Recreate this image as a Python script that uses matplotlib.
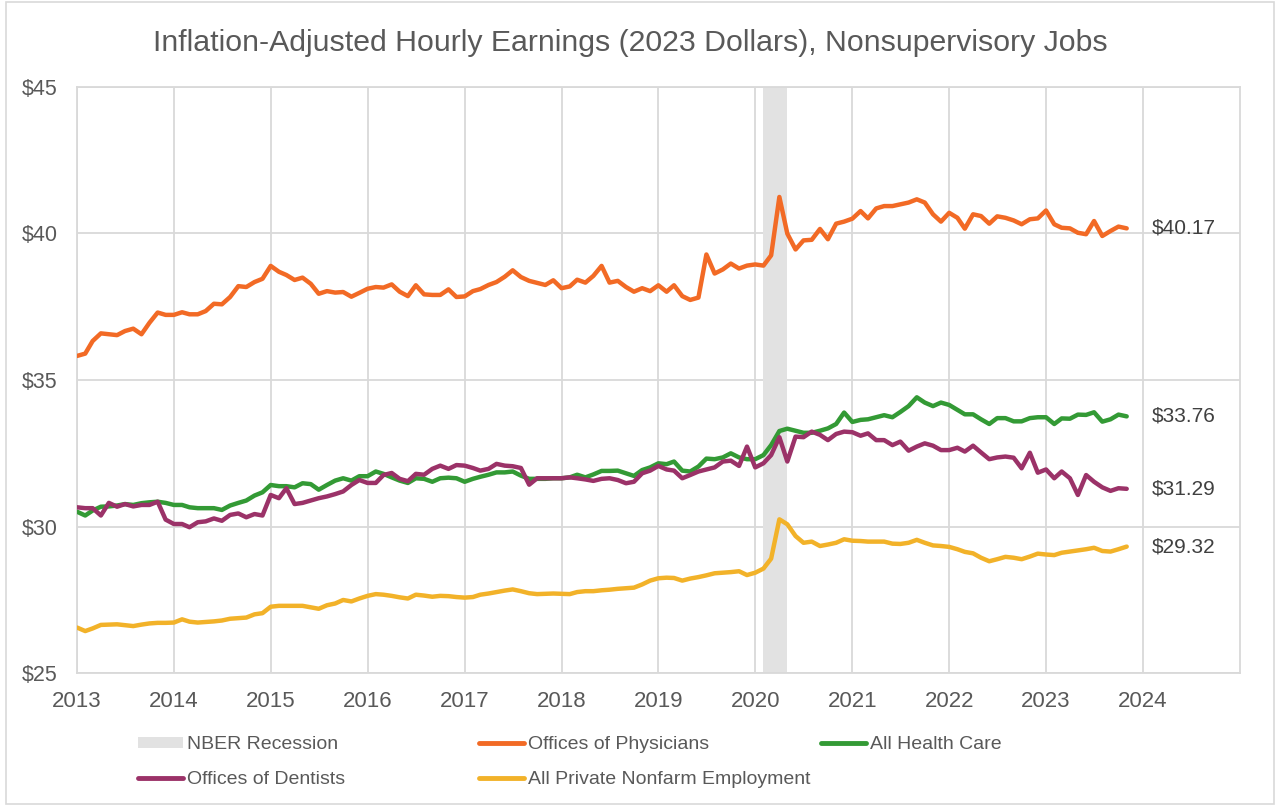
import matplotlib
matplotlib.use("Agg")
import matplotlib.pyplot as plt
from matplotlib.lines import Line2D
from matplotlib.patches import Patch, Rectangle
import pandas as pd

plt.rcParams['font.family'] = ['Liberation Sans', 'DejaVu Sans']

# ---------------- data ----------------
months = pd.date_range("2013-01-01", periods=131, freq="MS")

physicians = [
    35.82, 35.90, 36.33, 36.59, 36.56, 36.53, 36.67, 36.75, 36.56, 36.95, 37.30, 37.22,
    37.22, 37.31, 37.24, 37.24, 37.35, 37.60, 37.58, 37.83, 38.20, 38.17, 38.34, 38.45,
    38.89, 38.69, 38.58, 38.41, 38.49, 38.28, 37.94, 38.03, 37.98, 38.00, 37.84, 37.97,
    38.11, 38.17, 38.15, 38.26, 38.01, 37.86, 38.23, 37.92, 37.90, 37.90, 38.09, 37.83,
    37.85, 38.03, 38.10, 38.24, 38.34, 38.52, 38.74, 38.51, 38.38, 38.31, 38.24, 38.40,
    38.13, 38.19, 38.42, 38.32, 38.55, 38.89, 38.32, 38.38, 38.17, 38.01, 38.13, 38.03,
    38.23, 38.01, 38.23, 37.86, 37.73, 37.81, 39.28, 38.63, 38.77, 38.97, 38.80, 38.90,
    38.94, 38.90, 39.25, 41.24, 39.99, 39.45, 39.76, 39.78, 40.15, 39.80, 40.33, 40.40,
    40.50, 40.76, 40.51, 40.85, 40.93, 40.93, 40.99, 41.05, 41.16, 41.05, 40.65, 40.40,
    40.70, 40.53, 40.16, 40.65, 40.59, 40.33, 40.58, 40.53, 40.44, 40.31, 40.48, 40.51,
    40.78, 40.31, 40.19, 40.17, 40.02, 39.97, 40.42, 39.91, 40.08, 40.23, 40.17,
]

health_care = [
    30.51, 30.38, 30.55, 30.68, 30.69, 30.72, 30.77, 30.74, 30.80, 30.83, 30.85, 30.81,
    30.74, 30.74, 30.66, 30.63, 30.63, 30.63, 30.57, 30.72, 30.81, 30.89, 31.06, 31.17,
    31.42, 31.38, 31.38, 31.34, 31.48, 31.45, 31.26, 31.42, 31.57, 31.65, 31.57, 31.72,
    31.72, 31.88, 31.80, 31.68, 31.57, 31.49, 31.65, 31.63, 31.53, 31.65, 31.67, 31.65,
    31.53, 31.63, 31.70, 31.77, 31.85, 31.85, 31.88, 31.74, 31.63, 31.63, 31.63, 31.65,
    31.65, 31.68, 31.77, 31.68, 31.78, 31.90, 31.90, 31.91, 31.82, 31.73, 31.93, 32.02,
    32.16, 32.13, 32.22, 31.91, 31.88, 32.05, 32.32, 32.30, 32.36, 32.50, 32.36, 32.30,
    32.30, 32.44, 32.78, 33.26, 33.34, 33.27, 33.20, 33.20, 33.27, 33.35, 33.50, 33.89,
    33.57, 33.64, 33.66, 33.73, 33.80, 33.73, 33.91, 34.11, 34.41, 34.23, 34.11, 34.23,
    34.15, 33.98, 33.83, 33.83, 33.66, 33.50, 33.70, 33.70, 33.59, 33.59, 33.70, 33.73,
    33.73, 33.50, 33.69, 33.68, 33.82, 33.81, 33.90, 33.58, 33.66, 33.82, 33.76,
]

dentists = [
    30.66, 30.63, 30.63, 30.38, 30.81, 30.68, 30.77, 30.69, 30.74, 30.74, 30.85, 30.24,
    30.09, 30.09, 29.98, 30.15, 30.18, 30.28, 30.20, 30.40, 30.45, 30.32, 30.43, 30.38,
    31.08, 30.97, 31.31, 30.77, 30.81, 30.89, 30.97, 31.03, 31.11, 31.20, 31.42, 31.59,
    31.49, 31.49, 31.76, 31.83, 31.63, 31.55, 31.80, 31.77, 31.97, 32.08, 31.97, 32.10,
    32.08, 32.00, 31.91, 31.97, 32.14, 32.08, 32.06, 32.00, 31.43, 31.65, 31.65, 31.65,
    31.65, 31.68, 31.65, 31.61, 31.56, 31.63, 31.65, 31.59, 31.48, 31.53, 31.82, 31.91,
    32.07, 31.95, 31.91, 31.65, 31.76, 31.88, 31.95, 32.02, 32.22, 32.25, 32.07, 32.73,
    32.02, 32.16, 32.44, 33.05, 32.22, 33.07, 33.05, 33.24, 33.13, 32.95, 33.16, 33.24,
    33.22, 33.10, 33.18, 32.95, 32.95, 32.78, 32.90, 32.59, 32.73, 32.84, 32.76, 32.61,
    32.61, 32.69, 32.56, 32.76, 32.53, 32.30, 32.36, 32.39, 32.35, 31.99, 32.52, 31.84,
    31.95, 31.65, 31.88, 31.65, 31.08, 31.76, 31.53, 31.34, 31.22, 31.31, 31.29,
]

private_nonfarm = [
    26.56, 26.44, 26.53, 26.65, 26.66, 26.67, 26.64, 26.61, 26.66, 26.70, 26.72, 26.72,
    26.73, 26.84, 26.76, 26.73, 26.75, 26.77, 26.80, 26.86, 26.88, 26.90, 27.01, 27.05,
    27.27, 27.30, 27.30, 27.30, 27.30, 27.25, 27.20, 27.32, 27.38, 27.50, 27.45, 27.55,
    27.64, 27.70, 27.68, 27.64, 27.59, 27.55, 27.68, 27.65, 27.61, 27.64, 27.63, 27.60,
    27.58, 27.60, 27.68, 27.72, 27.77, 27.82, 27.86, 27.80, 27.73, 27.70, 27.71, 27.72,
    27.71, 27.70, 27.77, 27.80, 27.80, 27.83, 27.85, 27.88, 27.90, 27.92, 28.03, 28.16,
    28.24, 28.26, 28.25, 28.16, 28.23, 28.28, 28.34, 28.41, 28.43, 28.45, 28.48, 28.35,
    28.43, 28.57, 28.91, 30.25, 30.08, 29.68, 29.45, 29.49, 29.34, 29.39, 29.45, 29.57,
    29.52, 29.51, 29.49, 29.49, 29.49, 29.42, 29.41, 29.45, 29.55, 29.45, 29.36, 29.34,
    29.31, 29.23, 29.14, 29.09, 28.94, 28.82, 28.89, 28.97, 28.94, 28.89, 28.98, 29.08,
    29.05, 29.03, 29.11, 29.15, 29.19, 29.23, 29.28, 29.17, 29.15, 29.23, 29.32,
]

recession_start = "2020-02-01"
recession_end = "2020-04-30"

series_names = ["Offices of Physicians", "All Health Care",
                "Offices of Dentists", "All Private Nonfarm Employment"]
series_values = [physicians, health_care, dentists, private_nonfarm]
series_colors = ["#F26A25", "#339A35", "#9B3268", "#F2B229"]

y_ticks = [25, 30, 35, 40, 45]
y_tick_labels = ["$25", "$30", "$35", "$40", "$45"]
x_tick_years = list(range(2013, 2025))
x_tick_labels = [str(y) for y in x_tick_years]

title = "Inflation-Adjusted Hourly Earnings (2023 Dollars), Nonsupervisory Jobs"

# ---------------- figure ----------------
W, H = 1276, 805
fig = plt.figure(figsize=(W / 100, H / 100), dpi=100)
fig.patch.set_facecolor("white")
fig.add_artist(Rectangle((6 / W, 1 / H), (W - 8) / W, (H - 3) / H,
                         transform=fig.transFigure, fill=False,
                         edgecolor="#d9d9d9", linewidth=1.2))

ax = fig.add_axes([77 / W, 1 - 673.3 / H, (1240 - 77) / W, (673.3 - 86.7) / H])
grid_c = "#d9d9d9"
text_c = "#595959"

ax.axvspan(pd.Timestamp(recession_start), pd.Timestamp(recession_end),
           color="#e2e2e2", zorder=1, lw=0)

for name, vals, col in zip(series_names, series_values, series_colors):
    ax.plot(months, vals, color=col, lw=3.2, solid_joinstyle="round",
            solid_capstyle="round", zorder=3)
    ax.annotate("$%.2f" % vals[-1], xy=(months[-1], vals[-1]),
                xytext=(18, 0), textcoords="offset points",
                va="center", ha="left", fontsize=15, color="#404040")

ax.set_xlim(pd.Timestamp("2013-01-01"), pd.Timestamp("2025-01-01"))
ax.set_ylim(25, 45)
ax.set_yticks(y_ticks)
ax.set_yticklabels(y_tick_labels)
ax.set_xticks([pd.Timestamp(f"{y}-01-01") for y in x_tick_years])
ax.set_xticklabels(x_tick_labels)
ax.grid(True, color=grid_c, lw=1.3, zorder=0)
ax.set_axisbelow(True)
for s in ax.spines.values():
    s.set_color(grid_c)
    s.set_linewidth(1.3)
ax.tick_params(axis="both", length=0, colors=text_c, labelsize=15.5)
ax.tick_params(axis="x", labelsize=16, pad=12.5)
ax.tick_params(axis="y", pad=14)

fig.text(630 / W, 1 - 43 / H, title, ha="center", va="center",
         fontsize=21.8, color=text_c)

# ---------------- legend (three fixed columns) ----------------
rec_handle = Patch(facecolor="#e2e2e2", edgecolor="none")
line_handles = [Line2D([], [], color=c, lw=3.5, solid_capstyle="round")
                for c in series_colors]
cols = [
    ([rec_handle, line_handles[2]], ["NBER Recession", series_names[2]], 138, 762),
    ([line_handles[0], line_handles[3]], [series_names[0], series_names[3]], 479, 762),
    ([line_handles[1]], [series_names[1]], 821, 744.5),
]
for hs, ls, xpx, ypx in cols:
    fig.legend(hs, ls, loc="center left", bbox_to_anchor=(xpx / W, 1 - ypx / H),
               frameon=False, fontsize=14, handlelength=2.3, handleheight=0.5,
               handletextpad=0.22, borderpad=0, borderaxespad=0,
               labelspacing=0.92, labelcolor=text_c)

fig.savefig("out.png", dpi=100, facecolor="white")
